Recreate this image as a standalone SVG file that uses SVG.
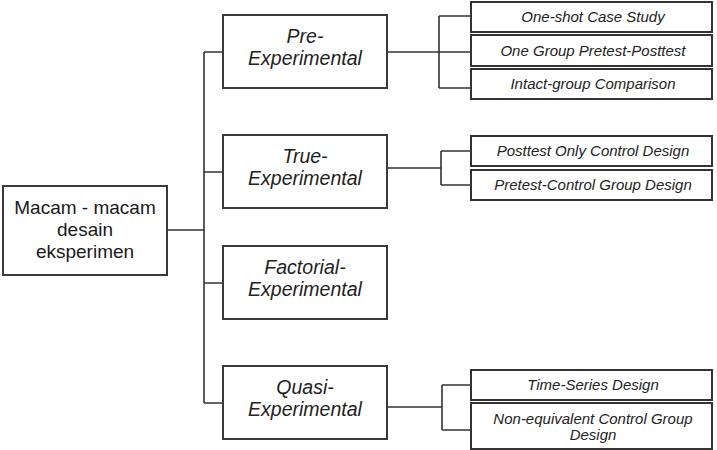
<svg xmlns="http://www.w3.org/2000/svg" width="717" height="450" viewBox="0 0 717 450">
<style>
.box{fill:#fff;stroke:#3a3a3a;stroke-width:2}
.sbox{fill:#fff;stroke:#333;stroke-width:2}
.l1{font-family:"Liberation Sans",Arial,sans-serif;font-size:19.5px;font-style:italic;fill:#222;text-anchor:middle}
.l2{font-family:"Liberation Sans",Arial,sans-serif;font-size:15px;font-style:italic;fill:#222;text-anchor:middle}
.root{font-family:"Liberation Sans",Arial,sans-serif;font-size:19px;fill:#1a1a1a;text-anchor:middle}
.con{fill:none;stroke:#333;stroke-width:1.6}
</style>
<rect width="717" height="450" fill="#fff"/>
<g id="connectors">
<path class="con" d="M167 230H204M204 52V403M204 52H223M204 172H223M204 283H223M204 403H223"/>
<path class="con" d="M387 52H471M439 16V88M439 16H471M439 88H471"/>
<path class="con" d="M387 168H441M441 151V185M441 151H471M441 185H471"/>
<path class="con" d="M387 407H442M442 385V430M442 385H471M442 430H471"/>
</g>
<g id="root">
<rect class="box" x="3" y="186" width="164" height="89"/>
<text class="root" x="85" y="214">Macam - macam</text>
<text class="root" x="85" y="236">desain</text>
<text class="root" x="85" y="258">eksperimen</text>
</g>
<g id="pre">
<rect class="box" x="223" y="15" width="164" height="73"/>
<text class="l1" x="305" y="43">Pre-</text>
<text class="l1" x="305" y="65">Experimental</text>
</g>
<g id="true">
<rect class="box" x="223" y="135" width="164" height="73"/>
<text class="l1" x="305" y="163">True-</text>
<text class="l1" x="305" y="185">Experimental</text>
</g>
<g id="factorial">
<rect class="box" x="223" y="246" width="164" height="73"/>
<text class="l1" x="305" y="274">Factorial-</text>
<text class="l1" x="305" y="296">Experimental</text>
</g>
<g id="quasi">
<rect class="box" x="223" y="366" width="164" height="73"/>
<text class="l1" x="305" y="394">Quasi-</text>
<text class="l1" x="305" y="416">Experimental</text>
</g>
<g id="oneshot">
<rect class="sbox" x="471" y="2" width="241" height="30"/>
<text class="l2" x="593" y="22">One-shot Case Study</text>
</g>
<g id="onegroup">
<rect class="sbox" x="471" y="35" width="241" height="31"/>
<text class="l2" x="593" y="55.5">One Group Pretest-Posttest</text>
</g>
<g id="intact">
<rect class="sbox" x="471" y="69" width="241" height="30"/>
<text class="l2" x="593" y="89">Intact-group Comparison</text>
</g>
<g id="posttest">
<rect class="sbox" x="471" y="136" width="241" height="30"/>
<text class="l2" x="593" y="156">Posttest Only Control Design</text>
</g>
<g id="pretestcontrol">
<rect class="sbox" x="471" y="170" width="241" height="30"/>
<text class="l2" x="593" y="190">Pretest-Control Group Design</text>
</g>
<g id="timeseries">
<rect class="sbox" x="471" y="370" width="241" height="30"/>
<text class="l2" x="593" y="390">Time-Series Design</text>
</g>
<g id="nonequivalent">
<rect class="sbox" x="471" y="403" width="241" height="46"/>
<text class="l2" x="593" y="423.5">Non-equivalent Control Group</text>
<text class="l2" x="593" y="440">Design</text>
</g>
</svg>
